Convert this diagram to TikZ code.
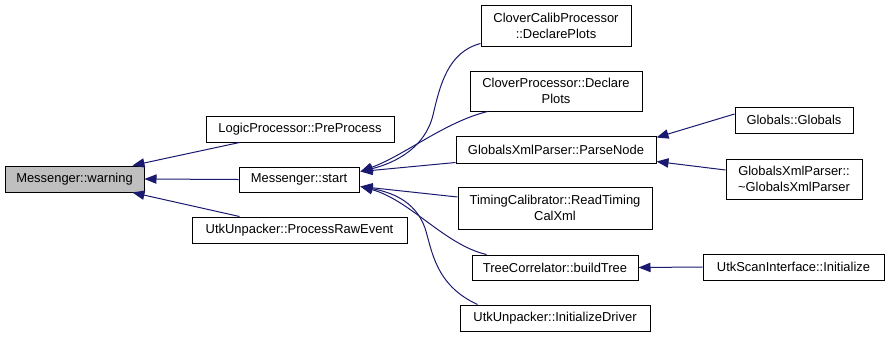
\documentclass[tikz,border=0pt]{standalone}
\usepackage{fontspec}
\setmainfont{Liberation Sans}
\usetikzlibrary{arrows.meta,calc}
\definecolor{edgeblue}{HTML}{191970}
\definecolor{curfill}{HTML}{BFBFBF}
\begin{document}
\begin{tikzpicture}[x=0.75pt,y=-0.75pt,
  fn/.style={draw=black,line width=0.75pt,fill=white,inner sep=0pt,align=center,
    font=\fontsize{9.7}{12}\selectfont},
  cur/.style={fn,fill=curfill},
  edge/.style={draw=edgeblue,line width=0.75pt,-{Triangle[length=9pt,width=7pt]}}]
\useasboundingbox (0,0) rectangle (889,337);

% called function and its direct callers
\node[cur,minimum width=104.25pt,minimum height=19.5pt] (warn) at (74.5,179) {Messenger::warning};
\node[fn,minimum width=141pt,minimum height=19.5pt] (lp) at (300,129) {LogicProcessor::PreProcess};
\node[fn,minimum width=90pt,minimum height=18.75pt] (start) at (299,179.5) {Messenger::start};
\node[fn,minimum width=161.25pt,minimum height=19.5pt] (raw) at (299.5,230) {UtkUnpacker::ProcessRawEvent};

% callers of Messenger::start
\node[fn,minimum width=112.5pt,minimum height=30.75pt] (cc) at (556,25.5) {CloverCalibProcessor\\::DeclarePlots};
\node[fn,minimum width=129pt,minimum height=30pt] (cp) at (556,91) {CloverProcessor::Declare\\Plots};
\node[fn,minimum width=150pt,minimum height=20.25pt] (pn) at (556,149.5) {GlobalsXmlParser::ParseNode};
\node[fn,minimum width=145.5pt,minimum height=31.5pt] (tc) at (555,208) {TimingCalibrator::ReadTiming\\CalXml};
\node[fn,minimum width=124.5pt,minimum height=18.75pt] (tr) at (555,267.5) {TreeCorrelator::buildTree};
\node[fn,minimum width=142.5pt,minimum height=19.5pt] (id) at (555,318) {UtkUnpacker::InitializeDriver};

% third level
\node[fn,minimum width=88.5pt,minimum height=19.5pt] (gg) at (794,120) {Globals::Globals};
\node[fn,minimum width=102pt,minimum height=30pt] (gx) at (794,179) {GlobalsXmlParser::\\\textasciitilde GlobalsXmlParser};
\node[fn,minimum width=135.75pt,minimum height=19.5pt] (us) at (793.5,267) {UtkScanInterface::Initialize};

% edges into Messenger::warning
\draw[edge] ($(lp.south west)+(34,0)$) -- ($(warn.north east)+(-12,0)$);
\draw[edge] (start.west) -- (warn.east);
\draw[edge] ($(raw.north west)+(48,0)$) -- ($(warn.south east)+(-12,0)$);

% edges into Messenger::start
\coordinate (sup) at ($(start.east)+(1,-8)$);
\coordinate (sdn) at ($(start.east)+(1,7)$);
\draw[edge] ($(cc.south west)+(0,-3)$) .. controls (448,52) and (440,85) .. (433,115)
  .. controls (425,148) and (395,163) .. (sup);
\draw[edge] ($(cp.south west)+(18,0)$) .. controls (445,122) and (405,155) .. (sup);
\draw[edge] ($(pn.south west)+(0,-1)$) -- (sup);
\draw[edge] ($(tc.west)+(0,-11)$) -- (sdn);
\draw[edge] ($(tr.north west)+(15,0)$) .. controls (445,245) and (410,200) .. (sdn);
\draw[edge] ($(id.north west)+(18,0)$) .. controls (435,285) and (432,250) .. (425,228)
  .. controls (415,200) and (390,192) .. (sdn);

% edges into ParseNode and buildTree
\draw[edge] ($(gg.west)+(0,-6)$) -- ($(pn.north east)+(0,2)$);
\draw[edge] ($(gx.west)+(0,-9)$) -- ($(pn.south east)+(0,-2)$);
\draw[edge] (us.west) -- (tr.east);
\end{tikzpicture}
\end{document}
